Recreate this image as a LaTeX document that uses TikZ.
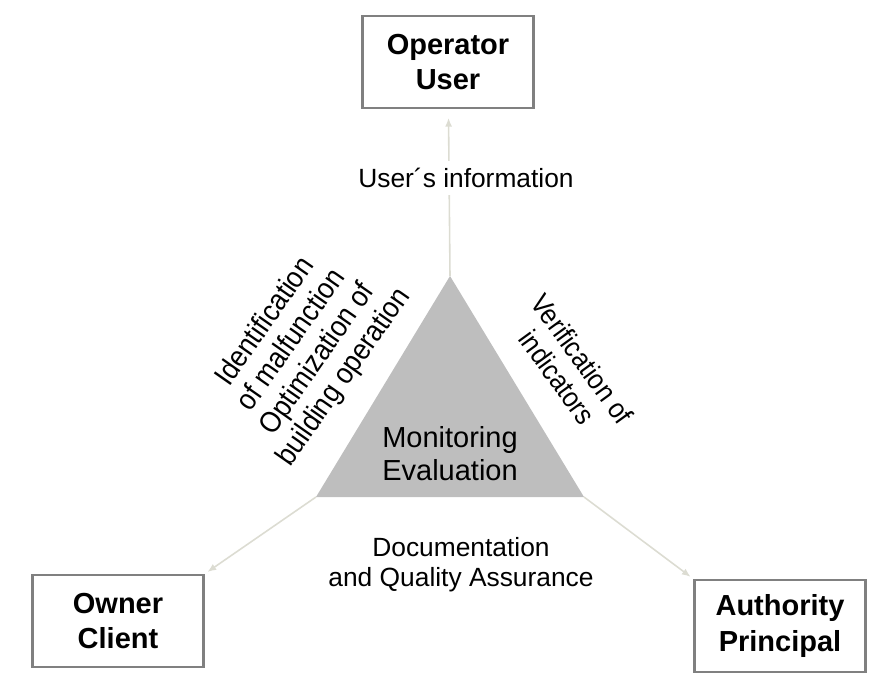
\documentclass[tikz,border=0pt]{standalone}
\usepackage{fontspec}
\setmainfont{Liberation Sans}
\newfontfamily\narrowsf[FakeStretch=0.9]{Liberation Sans}
\usetikzlibrary{arrows.meta}
\definecolor{linkgray}{HTML}{DCDCD2}
\definecolor{boxgray}{HTML}{808080}
\definecolor{trigray}{HTML}{BEBEBE}
\begin{document}
\begin{tikzpicture}[
  x=0.02cm, y=-0.02cm,
  box/.style={draw=boxgray, line width=1.2pt, fill=white, minimum height=1.84cm, minimum width=3.42cm,
    align=center, font=\fontsize{16.5}{20}\selectfont\bfseries},
  lbl/.style={align=center, font=\fontsize{15}{17}\selectfont},
  slant/.style={align=center, inner sep=0pt, font=\narrowsf\fontsize{16}{17.5}\selectfont, rotate=#1},
  arr/.style={-{Latex[length=5pt, width=4pt]}, line width=0.9pt, linkgray}
]
\useasboundingbox (0,0) rectangle (874,687);

%% Stakeholders
\node[box] (user) at (448, 62) {Operator\\User};
\node[box] (owner) at (118, 621) {Owner\\Client};
\node[box] (auth) at (780, 626) {Authority\\Principal};

%% Central triangle
\coordinate (top) at (450, 276);
\coordinate (left) at (316, 497);
\coordinate (right) at (584, 497);
\fill[trigray] (top) -- (left) -- (right) -- cycle;
\node[lbl, font=\fontsize{16.5}{18.7}\selectfont] (mon) at (450, 454) {Monitoring\\Evaluation};

%% Arrows
\draw[arr, shorten >=5pt] (top) -- (user);
\draw[arr, shorten >=2pt] (left) -- (owner.north east);
\draw[arr, shorten >=2pt] (right) -- (auth.north west);

%% Labels
\node[lbl, fill=white, inner sep=4pt] (info) at (466, 178) {User\textasciiacute s information};
\node[lbl] (doc) at (461, 565) {Documentation\\and Quality Assurance};
\node[slant=55, font=\narrowsf\fontsize{16.8}{18.2}\selectfont] (ident) at (305, 350)
  {Identification\\of malfunction\\Optimization of\\building operation};
\node[slant=-54] (verif) at (570, 368)
  {Verification of\\indicators};
\end{tikzpicture}
\end{document}
